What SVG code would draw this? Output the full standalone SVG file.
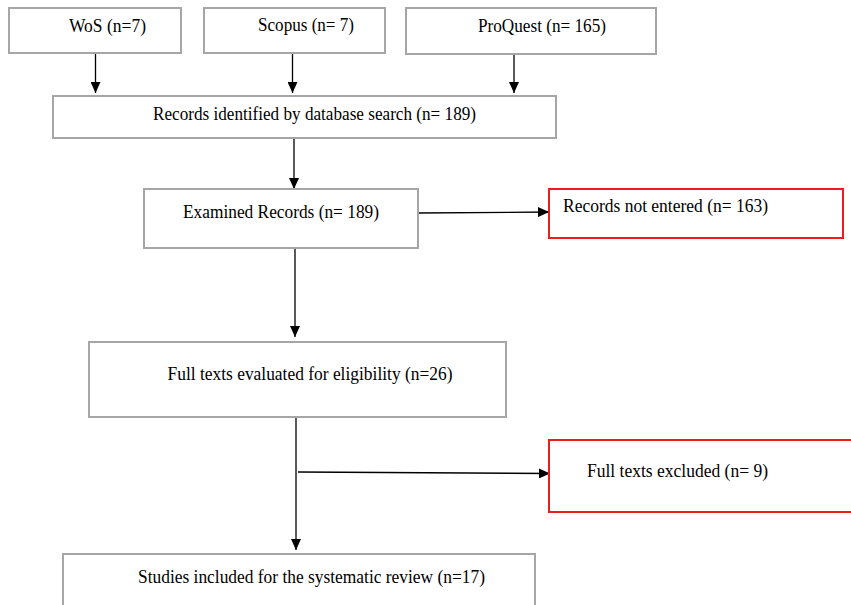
<svg xmlns="http://www.w3.org/2000/svg" width="851" height="605" viewBox="0 0 851 605">
<defs>
<marker id="ah" markerWidth="11" markerHeight="10" refX="11" refY="5" orient="auto" markerUnits="userSpaceOnUse">
<path d="M0,0 L11,5 L0,10 Z" fill="#000"/>
</marker>
<style>
.box{fill:#fff;stroke:#a6a6a6;stroke-width:2}
.red{fill:#fff;stroke:#ee1c1c;stroke-width:2}
.t{font-family:"Liberation Serif","Times New Roman",serif;font-size:19px;fill:#000}
.c{stroke:#000;stroke-width:1.3;fill:none;marker-end:url(#ah)}
</style>
</defs>
<rect width="851" height="605" fill="#fff"/>
<g id="connectors">
<line class="c" x1="95.5" y1="53" x2="95.5" y2="93"/>
<line class="c" x1="292.5" y1="53" x2="292.5" y2="93"/>
<line class="c" x1="514" y1="54" x2="514" y2="93"/>
<line class="c" x1="294" y1="139" x2="294" y2="189"/>
<line class="c" x1="418" y1="213" x2="549" y2="212"/>
<line class="c" x1="295" y1="248" x2="295" y2="337"/>
<line class="c" x1="296" y1="417" x2="296" y2="550"/>
<line class="c" x1="298" y1="472" x2="550" y2="473.5"/>
</g>
<g id="wos">
<rect class="box" x="9" y="8" width="172" height="45"/>
<text class="t" x="69" y="32" textLength="77" lengthAdjust="spacingAndGlyphs">WoS (n=7)</text>
</g>
<g id="scopus">
<rect class="box" x="204" y="8" width="181" height="45"/>
<text class="t" x="258" y="31" textLength="96" lengthAdjust="spacingAndGlyphs">Scopus (n= 7)</text>
</g>
<g id="proquest">
<rect class="box" x="406" y="8" width="250" height="46"/>
<text class="t" x="478" y="32" textLength="128" lengthAdjust="spacingAndGlyphs">ProQuest (n= 165)</text>
</g>
<g id="identified">
<rect class="box" x="53" y="96" width="503" height="42"/>
<text class="t" x="153" y="120" textLength="323" lengthAdjust="spacingAndGlyphs">Records identified by database search (n= 189)</text>
</g>
<g id="examined">
<rect class="box" x="144" y="189" width="274" height="59"/>
<text class="t" x="183" y="218" textLength="196" lengthAdjust="spacingAndGlyphs">Examined Records (n= 189)</text>
</g>
<g id="notentered">
<rect class="red" x="549" y="189" width="294" height="49"/>
<text class="t" x="563" y="212" textLength="205" lengthAdjust="spacingAndGlyphs">Records not entered (n= 163)</text>
</g>
<g id="fulltexts">
<rect class="box" x="89" y="342" width="417" height="75"/>
<text class="t" x="167.5" y="380" textLength="285" lengthAdjust="spacingAndGlyphs">Full texts evaluated for eligibility (n=26)</text>
</g>
<g id="excluded">
<rect class="red" x="549" y="440" width="306" height="72"/>
<text class="t" x="587" y="477" textLength="181" lengthAdjust="spacingAndGlyphs">Full texts excluded (n= 9)</text>
</g>
<g id="included">
<rect class="box" x="63" y="554" width="472" height="60"/>
<text class="t" x="138" y="583" textLength="347" lengthAdjust="spacingAndGlyphs">Studies included for the systematic review (n=17)</text>
</g>
</svg>
